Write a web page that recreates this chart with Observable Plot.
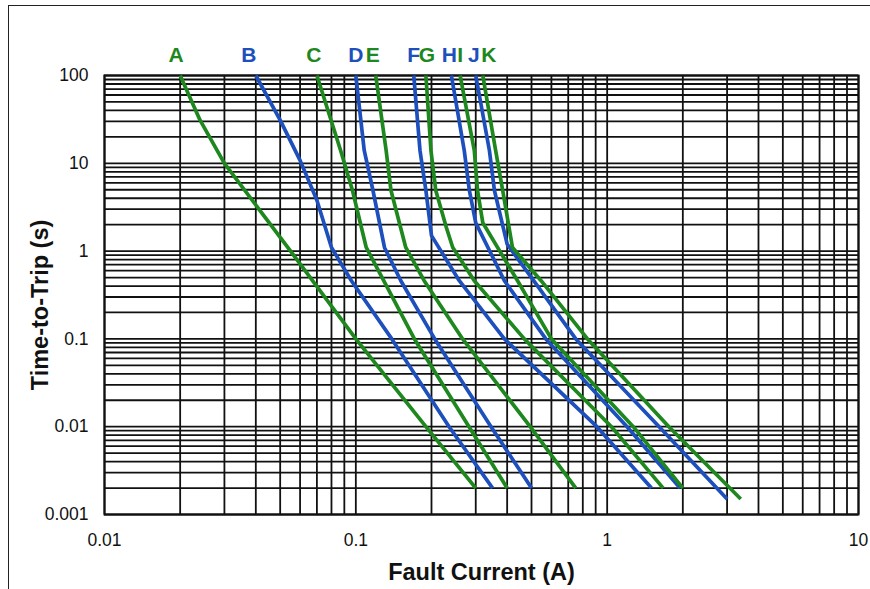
<!DOCTYPE html>
<html><head><meta charset="utf-8">
<script src="https://cdn.jsdelivr.net/npm/d3@7"></script>
<script src="https://cdn.jsdelivr.net/npm/@observablehq/plot@0.6"></script>
<style>
html,body{margin:0;padding:0;background:#fff;overflow:hidden;}
#wrap{position:relative;width:870px;height:589px;overflow:hidden;}
#border{position:absolute;left:8px;top:5px;width:900px;height:700px;border:1.5px solid #222;}
#chart{position:absolute;left:0;top:0;}
</style></head><body>
<div id="wrap"><div id="border"></div><div id="chart"></div></div>
<script>
// ---- data: [fault current (A), time-to-trip (s)] ----
const A = [[0.02,100],[0.024,31],[0.03,10],[0.055,1],[0.1,0.1],[0.19,0.01],[0.3,0.002]];
const B = [[0.04,100],[0.05,31],[0.06,10.8],[0.07,3.8],[0.08,1.1],[0.096,0.46],[0.139,0.1],[0.235,0.01],[0.35,0.002]];
const C = [[0.07,100],[0.087,14],[0.097,4.9],[0.11,1.1],[0.171,0.1],[0.282,0.01],[0.4,0.002]];
const D = [[0.1,100],[0.108,14],[0.117,4.9],[0.13,1.1],[0.151,0.46],[0.206,0.1],[0.345,0.01],[0.5,0.002]];
const E = [[0.12,100],[0.132,14],[0.138,4.9],[0.158,1.1],[0.187,0.46],[0.266,0.1],[0.494,0.01],[0.75,0.002]];
const F = [[0.17,100],[0.18,14],[0.19,4.9],[0.2,1.5],[0.258,0.46],[0.39,0.1],[0.91,0.01],[1.5,0.002]];
const G = [[0.19,100],[0.199,14],[0.208,4.9],[0.229,1.87],[0.243,1.1],[0.296,0.46],[0.468,0.1],[1.04,0.01],[1.67,0.002]];
const H = [[0.24,100],[0.27,14],[0.283,4.9],[0.3,2.1],[0.39,0.46],[0.57,0.1],[1.2,0.01],[1.95,0.002]];
const I = [[0.26,100],[0.296,14],[0.305,4.9],[0.32,2.1],[0.44,0.46],[0.6,0.1],[1.27,0.01],[2.0,0.002]];
const J = [[0.30,100],[0.34,14],[0.356,4.9],[0.4,1.2],[0.51,0.46],[0.75,0.1],[1.61,0.01],[3.0,0.0015]];
const K = [[0.32,100],[0.36,14],[0.384,4.9],[0.42,1.1],[0.546,0.46],[0.835,0.1],[1.76,0.01],[3.4,0.0015]];

const curveNames = ["A","B","C","D","E","F","G","H","I","J","K"];
const curveSeries = [A,B,C,D,E,F,G,H,I,J,K];
const xTickLabels = [0.01, 0.1, 1, 10];
const yTickLabels = [0.001, 0.01, 0.1, 1, 10, 100];
const xTitle = "Fault Current (A)";
const yTitle = "Time-to-Trip (s)";

// ---- styles ----
const GREEN = "#1e881e", BLUE = "#1d4fbd";
const colorOf = {A:GREEN,B:BLUE,C:GREEN,D:BLUE,E:GREEN,F:BLUE,G:GREEN,H:BLUE,I:GREEN,J:BLUE,K:GREEN};
const labelDx = {A:-4,B:-7,C:-3,D:0,E:-3,F:0,G:1,H:-2,I:0,J:-2,K:6};

const rows = curveNames.flatMap((n, i) => curveSeries[i].map(([cur, t]) => ({curve: n, I: cur, t})));
const tops = curveNames.map((n, i) => ({curve: n, I: curveSeries[i][0][0], t: curveSeries[i][0][1]}));

const xDomain = [xTickLabels[0], xTickLabels[xTickLabels.length-1]];
const yDomain = [yTickLabels[0], yTickLabels[yTickLabels.length-1]];
const xGrid = d3.scaleLog().domain(xDomain).ticks();
const yGrid = d3.scaleLog().domain(yDomain).ticks();

const chart = Plot.plot({
  width: 870, height: 589,
  marginLeft: 104, marginRight: 12, marginTop: 75, marginBottom: 75,
  style: {fontFamily: "'Liberation Sans', Arial, sans-serif", fontSize: "17.5px", color: "#111", background: "transparent", overflow: "visible"},
  x: {type: "log", domain: xDomain},
  y: {type: "log", domain: yDomain},
  color: {type: "identity"},
  marks: [
    Plot.ruleX(xGrid, {stroke: "#111", strokeWidth: 1.8}),
    Plot.ruleY(yGrid, {stroke: "#111", strokeWidth: 1.8}),
    Plot.frame({stroke: "#111", strokeWidth: 2}),
    Plot.axisX(xTickLabels, {tickSize: 0, tickPadding: 19, tickFormat: d => String(d), label: null, fontSize: 17.5}),
    Plot.axisY(yTickLabels, {tickSize: 0, tickPadding: 16, tickFormat: d => String(d), label: null, fontSize: 17.5}),
    Plot.line(rows, {x: "I", y: "t", z: "curve", stroke: d => colorOf[d.curve], strokeWidth: 3.7, strokeLinejoin: "round", strokeLinecap: "butt"}),
    ...curveNames.map((n, i) => Plot.text([tops[i]], {x: "I", y: "t", text: "curve", fill: colorOf[n], dy: -14, dx: labelDx[n], lineAnchor: "bottom", fontSize: 21, fontWeight: "bold"})),
    Plot.text([xTitle], {frameAnchor: "bottom", dy: 58, lineAnchor: "middle", textAnchor: "middle", text: d => d, fontSize: 23.5, fontWeight: "bold", fill: "#111"}),
    Plot.text([yTitle], {frameAnchor: "left", dx: -64, dy: 10, lineAnchor: "middle", textAnchor: "middle", rotate: -90, text: d => d, fontSize: 23.5, fontWeight: "bold", fill: "#111"})
  ]
});
document.getElementById("chart").appendChild(chart);
</script>
</body></html>
